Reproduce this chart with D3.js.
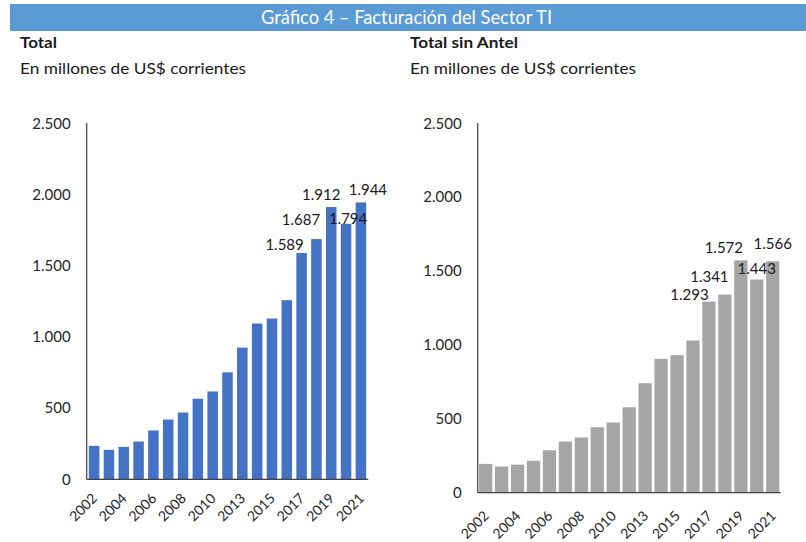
<!DOCTYPE html>
<html>
<head>
<meta charset="utf-8">
<script src="https://cdn.jsdelivr.net/npm/d3@7"></script>
<style>
  body { margin: 0; background: #fff; }
  text { font-family: Lato, "Open Sans", sans-serif; }
</style>
</head>
<body>
<div id="chart"></div>
<script>
// data (one year between 2010 and 2013 has no label)
var years = ["2002","2003","2004","2005","2006","2007","2008","2009","2010","2011",
             "2013","2014","2015","2016","2017","2018","2019","2020","2021"];
var tickYears = ["2002","2004","2006","2008","2010","2013","2015","2017","2019","2021"];
var yTicks = [0, 500, 1000, 1500, 2000, 2500];
var total = [235,207,228,265,343,420,469,566,617,751,925,1094,1129,1258,1589,1687,1912,1794,1944];
var sinAntel = [195,177,190,216,287,346,374,443,475,578,741,906,931,1030,1293,1341,1572,1443,1566];
var labelledYears = ["2017","2018","2019","2020","2021"];

var mainTitle = "Gráfico 4 – Facturación del Sector TI";
var unitText = "En millones de US$ corrientes";

// hand placed data labels (like in the original sheet)
var leftLabelShift  = [[-17,-3.5],[-15.5,-14],[-10,-7],[2,0],[7,-7.5]];
var rightLabelShift = [[-19.5,-1.5],[-15.5,-12.5],[-17,-7.5],[0,-5.5],[0,-12]];

var fmt = d3.formatLocale({decimal: ",", thousands: ".", grouping: [3], currency: ["", ""]}).format(",d");

var svg = d3.select("#chart")
  .append("svg")
    .attr("width", 806)
    .attr("height", 542);

// title bar
svg.append("rect")
  .attr("x", 10).attr("y", 4)
  .attr("width", 796).attr("height", 27)
  .attr("fill", "#5b9bd5");
svg.append("text")
  .attr("x", 261).attr("y", 24)
  .attr("textLength", 291)
  .attr("lengthAdjust", "spacingAndGlyphs")
  .attr("fill", "white")
  .style("font-size", "19px")
  .text(mainTitle);

function drawPanel(opts) {
  var g = svg.append("g");

  g.append("text")
    .attr("x", opts.left).attr("y", 48)
    .attr("textLength", opts.headW)
    .attr("lengthAdjust", "spacingAndGlyphs")
    .style("font-size", "16px")
    .style("font-weight", "bold")
    .attr("fill", "#1a1a1a")
    .text(opts.head);
  g.append("text")
    .attr("x", opts.left).attr("y", 74)
    .attr("textLength", 226)
    .attr("lengthAdjust", "spacingAndGlyphs")
    .style("font-size", "15px")
    .attr("fill", "#1a1a1a")
    .text(unitText);

  var x = d3.scaleBand()
    .domain(years)
    .range([opts.x0, opts.x1])
    .paddingInner(opts.pad)
    .paddingOuter(opts.pad / 2);

  var y = d3.scaleLinear()
    .domain([0, 2500])
    .range([opts.base, 123.3]);

  // y tick labels
  g.selectAll(".ytick")
    .data(yTicks)
    .enter().append("text")
      .attr("x", opts.x0 - 16)
      .attr("y", function(d) { return y(d); })
      .attr("dy", "0.35em")
      .attr("text-anchor", "end")
      .style("font-size", "15px")
      .attr("fill", "#262626")
      .text(function(d) { return fmt(d); });

  g.selectAll(".bar")
    .data(opts.values)
    .enter().append("rect")
      .attr("x", function(d, i) { return x(years[i]); })
      .attr("y", function(d) { return y(d); })
      .attr("width", x.bandwidth())
      .attr("height", function(d) { return opts.base - y(d); })
      .attr("fill", opts.color);

  // axis lines
  g.append("line")
    .attr("x1", opts.x0).attr("x2", opts.x0)
    .attr("y1", 123).attr("y2", opts.base)
    .attr("stroke", "#404040").attr("stroke-width", 1.2);
  g.append("line")
    .attr("x1", opts.x0).attr("x2", opts.x1)
    .attr("y1", opts.base).attr("y2", opts.base)
    .attr("stroke", "#404040").attr("stroke-width", 1.2);

  // x tick labels, rotated
  g.selectAll(".xtick")
    .data(tickYears)
    .enter().append("text")
      .attr("transform", function(d) {
        var cx = x(d) + x.bandwidth() / 2 + 4;
        return "translate(" + cx + "," + (opts.base + opts.xlabDy) + ")rotate(-45)";
      })
      .attr("text-anchor", "end")
      .style("font-size", "14px")
      .attr("fill", "#262626")
      .text(function(d) { return d; });

  // data labels
  g.selectAll(".dlabel")
    .data(labelledYears)
    .enter().append("text")
      .attr("x", function(d, i) { return x(d) + x.bandwidth() / 2 + opts.shift[i][0]; })
      .attr("y", function(d, i) { return y(opts.values[years.indexOf(d)]) + opts.shift[i][1]; })
      .attr("text-anchor", "middle")
      .style("font-size", "15px")
      .attr("fill", "#1a1a1a")
      .text(function(d) { return fmt(opts.values[years.indexOf(d)]); });
}

drawPanel({
  left: 20, head: "Total", headW: 37,
  values: total, color: "#4472c4",
  x0: 86.7, x1: 368.3, base: 479.3, pad: 0.29,
  xlabDy: 20, shift: leftLabelShift
});

drawPanel({
  left: 410, head: "Total sin Antel", headW: 108,
  values: sinAntel, color: "#a5a5a5",
  x0: 477.7, x1: 780.7, base: 492.7, pad: 0.17,
  xlabDy: 24, shift: rightLabelShift
});
</script>
</body>
</html>
